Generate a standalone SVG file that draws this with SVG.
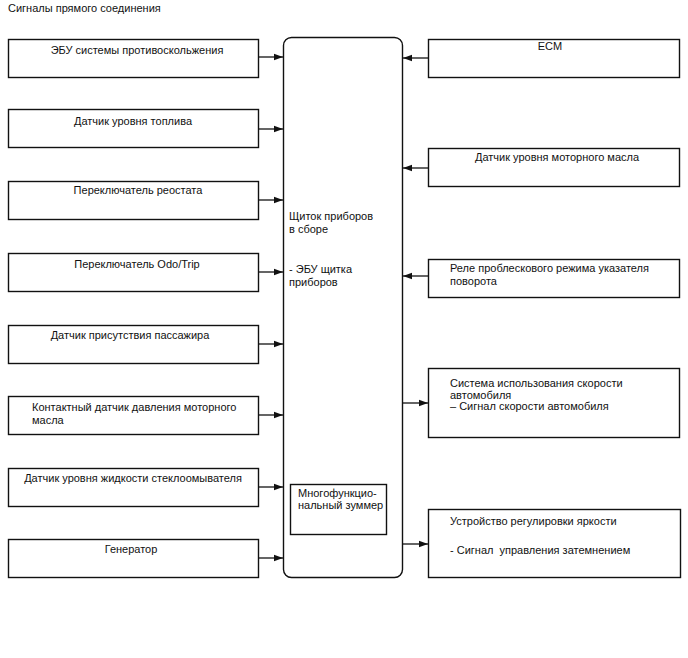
<svg xmlns="http://www.w3.org/2000/svg" width="688" height="658" viewBox="0 0 688 658">
<style>
text{font-family:"Liberation Sans",Arial,sans-serif;font-size:11px;fill:#111}
.b{fill:#fff;stroke:#111;stroke-width:1.4}
.c{text-anchor:middle}
.l{stroke:#111;stroke-width:1.3;fill:none}
</style>
<defs>
<marker id="ah" markerUnits="userSpaceOnUse" markerWidth="10" markerHeight="8" refX="9" refY="4" orient="auto">
<path d="M0,0.8 L9,4 L0,7.2 Z" fill="#111"/>
</marker>
</defs>
<rect width="688" height="658" fill="#fff"/>
<text x="8" y="12">Сигналы прямого соединения</text>

<g id="center">
<rect class="b" x="283.5" y="37.5" width="119" height="540" rx="8"/>
<text x="289" y="220">Щиток приборов</text>
<text x="289" y="233">в сборе</text>
<text x="289" y="273">- ЭБУ щитка</text>
<text x="289" y="286">приборов</text>
</g>
<g id="buzzer">
<rect class="b" x="290.5" y="484.5" width="96" height="50"/>
<text x="298" y="497">Многофункцио-</text>
<text x="298" y="509">нальный зуммер</text>
</g>

<g id="abs"><rect class="b" x="8.5" y="39.5" width="250" height="38"/><text class="c" x="137" y="54">ЭБУ системы противоскольжения</text></g>
<g id="fuel"><rect class="b" x="8.5" y="109.5" width="250" height="38"/><text class="c" x="133" y="125">Датчик уровня топлива</text></g>
<g id="rheostat"><rect class="b" x="8.5" y="181.5" width="250" height="38"/><text class="c" x="138" y="194">Переключатель реостата</text></g>
<g id="odotrip"><rect class="b" x="8.5" y="253.5" width="250" height="38"/><text class="c" x="137" y="268">Переключатель Odo/Trip</text></g>
<g id="passenger"><rect class="b" x="8.5" y="325.5" width="250" height="38"/><text class="c" x="130" y="339">Датчик присутствия пассажира</text></g>
<g id="oilpress"><rect class="b" x="8.5" y="396.5" width="250" height="38"/><text x="32" y="411">Контактный датчик давления моторного</text><text x="32" y="424">масла</text></g>
<g id="washer"><rect class="b" x="8.5" y="468.5" width="250" height="38"/><text class="c" x="133" y="482">Датчик уровня жидкости стеклоомывателя</text></g>
<g id="generator"><rect class="b" x="8.5" y="539.5" width="250" height="38"/><text class="c" x="131" y="553">Генератор</text></g>

<g id="ecm"><rect class="b" x="428.5" y="39.5" width="251" height="38"/><text class="c" x="550" y="50">ECM</text></g>
<g id="oillevel"><rect class="b" x="428.5" y="148.5" width="251" height="38"/><text class="c" x="557" y="161">Датчик уровня моторного масла</text></g>
<g id="relay"><rect class="b" x="428.5" y="259.5" width="251" height="38"/><text x="450" y="272">Реле проблескового режима указателя</text><text x="450" y="285">поворота</text></g>
<g id="speed"><rect class="b" x="428.5" y="368.5" width="251" height="69"/><text x="450" y="387">Система использования скорости</text><text x="450" y="398.5">автомобиля</text><text x="450" y="410">– Сигнал скорости автомобиля</text></g>
<g id="dimmer"><rect class="b" x="428.5" y="509.5" width="252" height="68"/><text x="450" y="525">Устройство регулировки яркости</text><text x="450" y="554" xml:space="preserve">- Сигнал  управления затемнением</text></g>

<g id="connectors">
<line class="l" x1="259" y1="57" x2="283" y2="57" marker-end="url(#ah)"/>
<line class="l" x1="259" y1="129" x2="283" y2="129" marker-end="url(#ah)"/>
<line class="l" x1="259" y1="200" x2="283" y2="200" marker-end="url(#ah)"/>
<line class="l" x1="259" y1="272" x2="283" y2="272" marker-end="url(#ah)"/>
<line class="l" x1="259" y1="344" x2="283" y2="344" marker-end="url(#ah)"/>
<line class="l" x1="259" y1="415" x2="283" y2="415" marker-end="url(#ah)"/>
<line class="l" x1="259" y1="487" x2="283" y2="487" marker-end="url(#ah)"/>
<line class="l" x1="259" y1="558" x2="283" y2="558" marker-end="url(#ah)"/>
<line class="l" x1="428" y1="58" x2="403" y2="58" marker-end="url(#ah)"/>
<line class="l" x1="428" y1="168" x2="403" y2="168" marker-end="url(#ah)"/>
<line class="l" x1="428" y1="276" x2="403" y2="276" marker-end="url(#ah)"/>
<line class="l" x1="403" y1="403" x2="428" y2="403" marker-end="url(#ah)"/>
<line class="l" x1="403" y1="544" x2="428" y2="544" marker-end="url(#ah)"/>
</g>
</svg>
